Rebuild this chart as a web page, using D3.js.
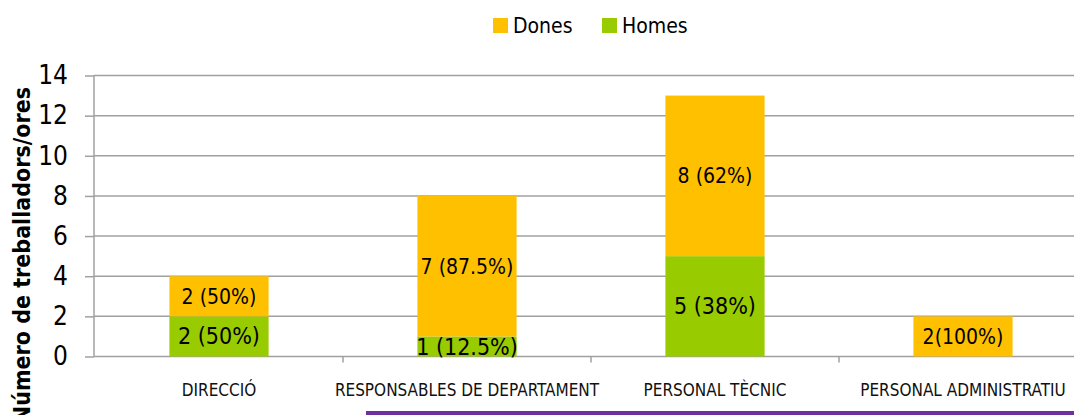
<!DOCTYPE html>
<html><head><meta charset="utf-8">
<script src="https://cdn.jsdelivr.net/npm/d3@7"></script>
<style>
html,body{margin:0;padding:0;background:#fff;overflow:hidden;}
svg text{font-family:"Liberation Sans Narrow","DejaVu Sans Condensed","Roboto",sans-serif;}
</style></head>
<body><svg id="c" width="1074" height="415"></svg>
<script>
const categories = ["DIRECCIÓ","RESPONSABLES DE DEPARTAMENT","PERSONAL TÈCNIC","PERSONAL ADMINISTRATIU"];
const homes = [2, 1, 5, 0];
const dones = [2, 7, 8, 2];
const homesLabels = ["2 (50%)","1 (12.5%)","5 (38%)",""];
const donesLabels = ["2 (50%)","7 (87.5%)","8 (62%)","2(100%)"];
const yTicks = [0,2,4,6,8,10,12,14];
const seriesNames = ["Dones","Homes"];
const colors = {Dones:"#FFC000", Homes:"#99CC00"};

const svg = d3.select("#c");
const x = d3.scaleBand().domain(categories).range([95, 1087]).paddingInner(0.6).paddingOuter(0.3);
const y = d3.scaleLinear().domain([0,14]).range([356.5, 75.5]);

// gridlines
svg.append("g").selectAll("line").data(yTicks.slice(1)).join("line")
  .attr("x1",94).attr("x2",1074).attr("y1",d=>y(d)).attr("y2",d=>y(d))
  .attr("stroke","#a0a0a0").attr("stroke-width",1.5);

// y axis
const yAxis = svg.append("g").attr("transform","translate(94,0)")
  .call(d3.axisLeft(y).tickValues(yTicks).tickSize(9).tickPadding(17));
yAxis.select(".domain").attr("stroke","#a0a0a0").attr("stroke-width",1.5).attr("d","M0,75.5V356.5");
yAxis.selectAll(".tick line").attr("stroke","#a0a0a0").attr("stroke-width",1.5);
yAxis.selectAll(".tick text").attr("font-size",26).attr("fill","#000")
  .attr("font-family",'"Liberation Sans Narrow","DejaVu Sans Condensed",sans-serif');

// x axis
const xAxis = svg.append("g").attr("transform",`translate(0,${y(0)})`)
  .call(d3.axisBottom(x).tickSize(0).tickPadding(27));
xAxis.select(".domain").attr("stroke","#a0a0a0").attr("stroke-width",1.5).attr("d","M94,0H1074");
xAxis.selectAll(".tick text").attr("font-size",17).attr("fill","#111")
  .attr("font-family",'"Liberation Sans Narrow","DejaVu Sans Condensed",sans-serif');
// band separators
const step = x.step();
svg.append("g").selectAll("line").data(categories.slice(1)).join("line")
  .attr("x1",d=>x(d)-x.paddingInner()*step/2).attr("x2",d=>x(d)-x.paddingInner()*step/2)
  .attr("y1",y(0)).attr("y2",y(0)+6).attr("stroke","#a0a0a0").attr("stroke-width",1.5);

// bars
const data = categories.map((c,i)=>({c, h:homes[i], d:dones[i], hl:homesLabels[i], dl:donesLabels[i]}));
const g = svg.append("g");
g.selectAll("rect.h").data(data.filter(d=>d.h>0)).join("rect").attr("class","h")
  .attr("x",d=>x(d.c)).attr("width",x.bandwidth())
  .attr("y",d=>y(d.h)).attr("height",d=>y(0)-y(d.h)).attr("fill",colors.Homes);
g.selectAll("rect.d").data(data).join("rect").attr("class","d")
  .attr("x",d=>x(d.c)).attr("width",x.bandwidth())
  .attr("y",d=>y(d.h+d.d)).attr("height",d=>y(d.h)-y(d.h+d.d)).attr("fill",colors.Dones);

// labels
g.selectAll("text.h").data(data.filter(d=>d.hl)).join("text").attr("class","h")
  .attr("x",d=>x(d.c)+x.bandwidth()/2).attr("y",d=>(y(0)+y(d.h))/2)
  .attr("dy","0.35em").attr("text-anchor","middle").attr("font-size",23).text(d=>d.hl);
g.selectAll("text.d").data(data).join("text").attr("class","d")
  .attr("x",d=>x(d.c)+x.bandwidth()/2).attr("y",d=>(y(d.h)+y(d.h+d.d))/2)
  .attr("dy","0.35em").attr("text-anchor","middle").attr("font-size",21).text(d=>d.dl);

// y title
svg.append("text").attr("transform","translate(30,255) rotate(-90)")
  .attr("text-anchor","middle").attr("font-size",23).attr("font-weight","bold")
  .text("Número de treballadors/ores");

// legend
const lg = svg.append("g");
const legX = [493, 602];
seriesNames.forEach((s,i)=>{
  lg.append("rect").attr("x",legX[i]).attr("y",18).attr("width",15).attr("height",15).attr("fill",colors[s]);
  lg.append("text").attr("x",legX[i]+20).attr("y",33).attr("font-size",21).text(s);
});

// purple line
svg.append("line").attr("x1",366).attr("x2",1074).attr("y1",413).attr("y2",413)
  .attr("stroke","#7030A0").attr("stroke-width",4);
</script></body></html>
